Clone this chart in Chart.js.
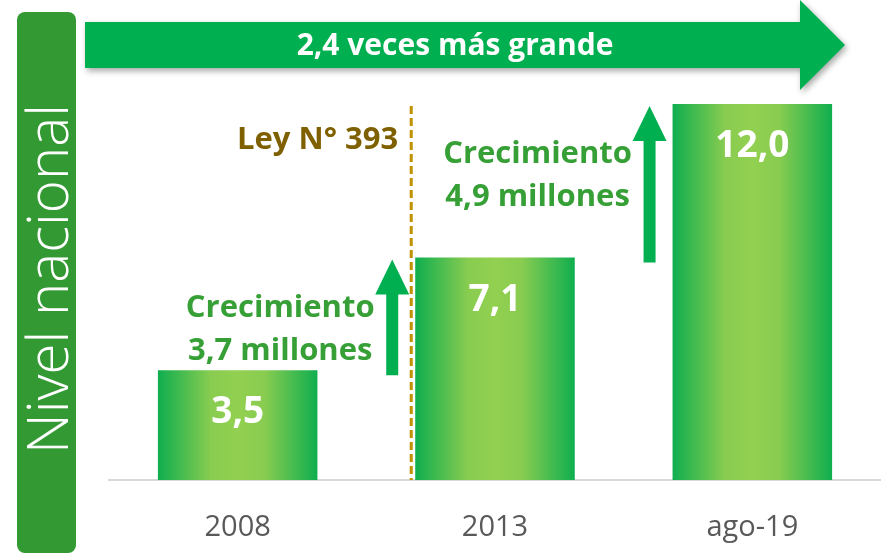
<!DOCTYPE html>
<html>
<head>
<meta charset="utf-8">
<script src="https://cdn.jsdelivr.net/npm/chart.js@4"></script>
<style>
  html, body { margin: 0; padding: 0; background: #ffffff; }
  #chart { display: block; }
</style>
</head>
<body>
<canvas id="chart" width="881" height="555"></canvas>
<script>
// Chart data
const categories = ['2008', '2013', 'ago-19'];
const values = [3.5, 7.1, 12.0];
const valueLabels = ['3,5', '7,1', '12,0'];

// Growth annotations: from bar index -> to bar index
const growthFrom = [0, 1];
const growthTo = [1, 2];
const growthText = [['Crecimiento', '3,7 millones'], ['Crecimiento', '4,9 millones']];

const sideTitle = 'Nivel nacional';
const bannerText = '2,4 veces más grande';
const lawText = 'Ley N° 393';

const GREEN_DARK = '#00b050';
const GREEN_LIGHT = '#92d050';
const SIDE_GREEN = '#339933';
const TEXT_GREEN = '#36a036';
const GOLD = '#bf9000';
const GOLD_TEXT = '#7f6000';
const FONT = '"Open Sans", "DejaVu Sans", sans-serif';

function upArrow(ctx, x, yBottom, yTip) {
  const shaft = 12, headW = 34, headH = 35;
  ctx.save();
  ctx.fillStyle = GREEN_DARK;
  ctx.beginPath();
  ctx.moveTo(x - shaft / 2, yBottom);
  ctx.lineTo(x - shaft / 2, yTip + headH);
  ctx.lineTo(x - headW / 2, yTip + headH);
  ctx.lineTo(x, yTip);
  ctx.lineTo(x + headW / 2, yTip + headH);
  ctx.lineTo(x + shaft / 2, yTip + headH);
  ctx.lineTo(x + shaft / 2, yBottom);
  ctx.closePath();
  ctx.fill();
  ctx.restore();
}

const decorPlugin = {
  id: 'decor',
  beforeDraw(chart) {
    const ctx = chart.ctx;

    // side box with rotated title
    ctx.save();
    ctx.fillStyle = SIDE_GREEN;
    ctx.beginPath();
    ctx.roundRect(17, 12, 59, 541, 8);
    ctx.fill();
    let size = 50;
    ctx.font = '300 ' + size + 'px ' + FONT;
    size = size * 350 / ctx.measureText(sideTitle).width;
    ctx.font = '300 ' + size + 'px ' + FONT;
    ctx.translate(68, 279);
    ctx.rotate(-Math.PI / 2);
    ctx.fillStyle = '#ffffff';
    ctx.textAlign = 'center';
    ctx.textBaseline = 'alphabetic';
    ctx.fillText(sideTitle, 0, 0);
    ctx.restore();

    // banner arrow at the top
    ctx.save();
    ctx.shadowColor = 'rgba(0,0,0,0.35)';
    ctx.shadowBlur = 6;
    ctx.shadowOffsetX = 2;
    ctx.shadowOffsetY = 3;
    ctx.fillStyle = GREEN_DARK;
    ctx.beginPath();
    ctx.moveTo(85, 22);
    ctx.lineTo(800, 22);
    ctx.lineTo(800, 0);
    ctx.lineTo(845, 45);
    ctx.lineTo(800, 90);
    ctx.lineTo(800, 68);
    ctx.lineTo(85, 68);
    ctx.closePath();
    ctx.fill();
    ctx.restore();
    ctx.save();
    ctx.fillStyle = '#ffffff';
    ctx.font = 'bold 30px ' + FONT;
    ctx.textAlign = 'center';
    ctx.textBaseline = 'alphabetic';
    ctx.fillText(bannerText, 455, 55);
    ctx.restore();
  },
  afterDatasetsDraw(chart) {
    const ctx = chart.ctx;
    const y = chart.scales.y;
    const bars = chart.getDatasetMeta(0).data;

    // value labels inside bars
    ctx.save();
    ctx.fillStyle = '#ffffff';
    ctx.font = 'bold 37px ' + FONT;
    ctx.textAlign = 'center';
    ctx.textBaseline = 'alphabetic';
    bars.forEach((bar, i) => {
      ctx.fillText(valueLabels[i], bar.x, bar.y + 53);
    });
    ctx.restore();

    // dashed law line before the 2013 bar
    const b1 = bars[1];
    const lawX = b1.x - b1.width / 2 - 4;
    ctx.save();
    ctx.strokeStyle = GOLD;
    ctx.lineWidth = 3;
    ctx.setLineDash([8, 4]);
    ctx.beginPath();
    ctx.moveTo(lawX, y.getPixelForValue(values[2]) + 2);
    ctx.lineTo(lawX, y.bottom);
    ctx.stroke();
    ctx.restore();

    ctx.save();
    ctx.fillStyle = GOLD_TEXT;
    ctx.font = 'bold 31px ' + FONT;
    ctx.textAlign = 'right';
    ctx.textBaseline = 'alphabetic';
    ctx.fillText(lawText, lawX - 13, 149);
    ctx.restore();

    // growth arrows and notes
    growthFrom.forEach((from, k) => {
      const target = bars[growthTo[k]];
      const ax = target.x - target.width / 2 - 23;
      const yBottom = y.getPixelForValue(values[from]) + 5;
      const yTip = y.getPixelForValue(values[growthTo[k]]) + 2;
      upArrow(ctx, ax, yBottom, yTip);

      ctx.save();
      ctx.fillStyle = TEXT_GREEN;
      ctx.font = 'bold 31px ' + FONT;
      ctx.textAlign = 'center';
      ctx.textBaseline = 'alphabetic';
      ctx.fillText(growthText[k][0], ax - 112, yTip + 57);
      ctx.fillText(growthText[k][1], ax - 112, yTip + 100);
      ctx.restore();
    });
  }
};

function barGradient(context) {
  const chart = context.chart;
  const xs = chart.scales.x;
  if (!xs || !chart.chartArea) return GREEN_DARK;
  const cx = xs.getPixelForValue(context.dataIndex);
  const w = xs.width / categories.length * 0.62;
  const g = chart.ctx.createLinearGradient(cx - w / 2, 0, cx + w / 2, 0);
  g.addColorStop(0, '#0fae4f');
  g.addColorStop(0.33, '#88cc50');
  g.addColorStop(0.5, GREEN_LIGHT);
  g.addColorStop(0.67, '#88cc50');
  g.addColorStop(1, '#0fae4f');
  return g;
}

new Chart(document.getElementById('chart').getContext('2d'), {
  type: 'bar',
  data: {
    labels: categories,
    datasets: [{
      data: values,
      backgroundColor: barGradient,
      borderWidth: 0,
      barPercentage: 0.62,
      categoryPercentage: 1
    }]
  },
  options: {
    responsive: false,
    animation: false,
    layout: { padding: { left: 109, right: 0, top: 0, bottom: 0 } },
    plugins: {
      legend: { display: false },
      tooltip: { enabled: false }
    },
    scales: {
      x: {
        grid: { display: false, drawTicks: false },
        border: { display: true, color: '#d9d9d9', width: 2 },
        ticks: {
          color: '#595959',
          font: { family: FONT, size: 29 },
          padding: 30
        },
        afterFit(scale) { scale.height = 75; }
      },
      y: {
        display: false,
        min: 0,
        max: 15.32
      }
    }
  },
  plugins: [decorPlugin]
});
</script>
</body>
</html>
